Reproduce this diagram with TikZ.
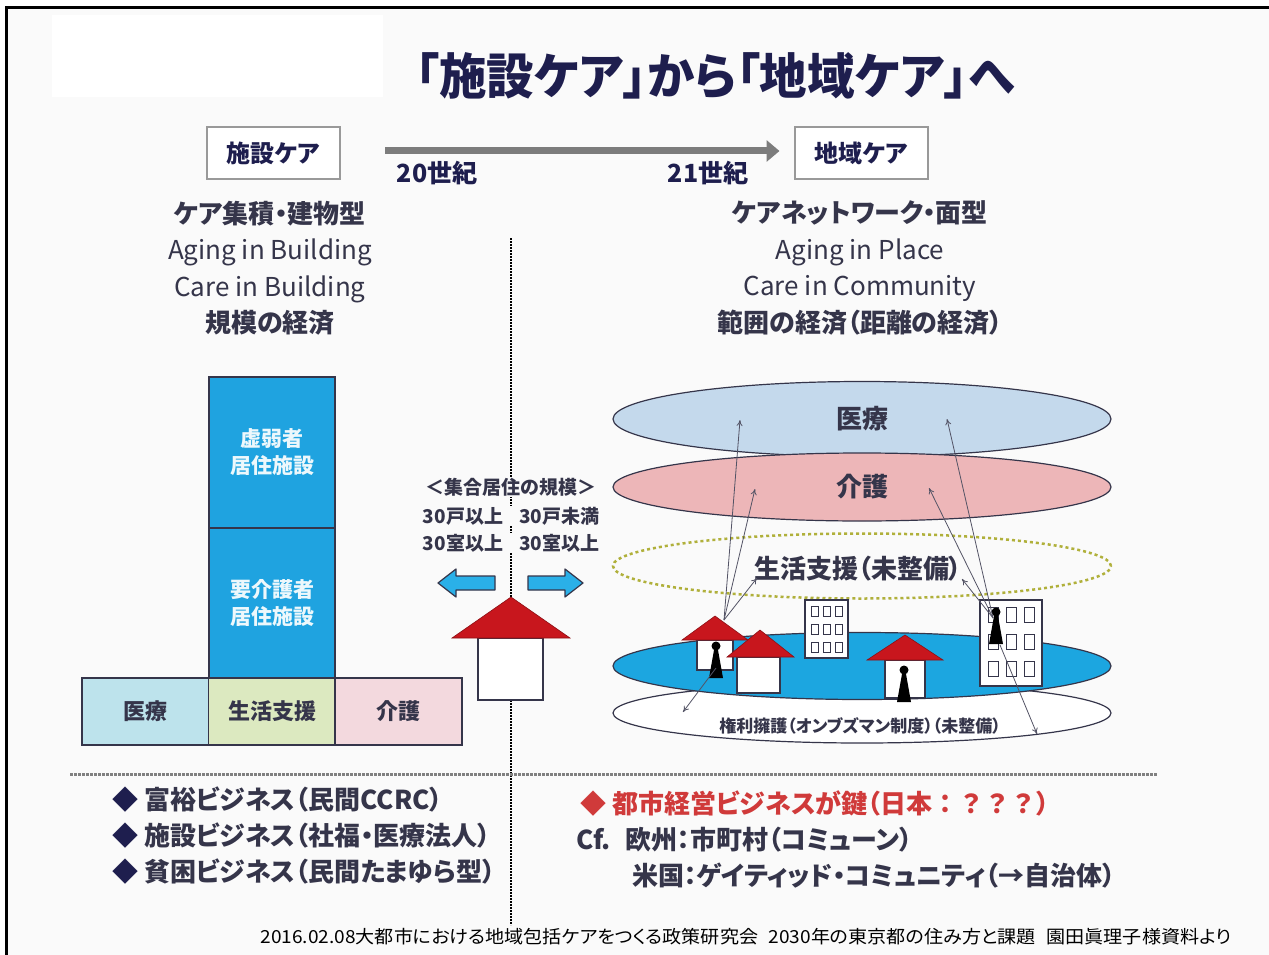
\documentclass[tikz,border=0pt]{standalone}
\usepackage{fontspec}
\setmainfont{Noto Sans CJK JP}[RawFeature=+palt]
\usetikzlibrary{shapes.geometric,arrows.meta}

\definecolor{pagebg}{HTML}{FAFAFA}
\definecolor{navy}{HTML}{1E1E4E}
\definecolor{ink}{HTML}{35354A}
\definecolor{bldgblue}{HTML}{1FA3E0}
\definecolor{cellmed}{HTML}{BDE3EC}
\definecolor{cellgen}{HTML}{DCE9C0}
\definecolor{cellcare}{HTML}{F3D9DE}
\definecolor{layermed}{HTML}{C4D9EC}
\definecolor{layercare}{HTML}{EDB6B8}
\definecolor{layerbase}{HTML}{1CA6E0}
\definecolor{dashgreen}{HTML}{B0B03A}
\definecolor{roofred}{HTML}{C8161D}
\definecolor{keyred}{HTML}{D03A3A}
\definecolor{eragray}{HTML}{7C7C7C}
\definecolor{arrowblue}{HTML}{2AB0E8}

\tikzset{
  jtext/.style={text=ink, inner sep=1pt},
  hdrbox/.style={draw=gray!80, line width=2pt, fill=white, minimum width=133pt,
    minimum height=51pt, text=navy, font=\fontsize{24}{24}\selectfont\bfseries},
  bldg/.style={draw=ink, line width=1.2pt, fill=bldgblue, minimum width=126pt,
    text=white!92!bldgblue, align=center, font=\fontsize{21}{27}\selectfont\bfseries},
  cell/.style={draw=ink, line width=1.2pt, minimum width=127pt, minimum height=67pt,
    text=ink, font=\fontsize{22}{22}\selectfont\bfseries},
  layer/.style={ellipse, draw=ink, line width=1.2pt, minimum width=498pt, inner sep=0pt,
    text=ink, font=\fontsize{26}{26}\selectfont\bfseries},
  roof/.style={fill=roofred, draw=roofred!70!black, line width=0.6pt},
  wall/.style={fill=white, draw=ink, line width=1.2pt},
  window/.style={draw=ink, line width=0.9pt, fill=white},
  link/.style={draw=ink!85, line width=0.8pt, -{To[length=6pt,width=6pt]}},
  barrow/.style={fill=arrowblue, draw=ink, line width=1.2pt, line join=round},
  bullet/.style={anchor=west, text=ink, inner sep=0pt, font=\fontsize{26}{26}\selectfont\bfseries},
}

% small black figure standing for a resident
\newcommand{\resident}[2]{%
  \fill[black] (#1,#2) circle (4.5pt);
  \fill[black] (#1-7,#2+32) -- (#1-2,#2+4) -- (#1+2,#2+4) -- (#1+7,#2+32) -- cycle;}
% full-width glyphs without proportional spacing
\newcommand{\fullwidth}[1]{{\addfontfeature{RawFeature=-palt}#1}}

\begin{document}
\begin{tikzpicture}[x=1pt,y=-1pt]
\useasboundingbox (0,0) rectangle (1269,955);
\fill[white] (0,0) rectangle (1269,955);
\fill[pagebg] (6,8) rectangle (1269,955);
\fill[white] (52,15) rectangle (383,97);
\draw[line width=3pt, black] (6,955) -- (6,8) -- (1269,8);

% ---- title
\node[text=navy, inner sep=0pt] (title) at (715,76)
  {\fontsize{49}{49}\selectfont\bfseries\scalebox{0.97}[1]{「施設ケア」から「地域ケア」へ}};

% ---- era bar
\node[hdrbox] (fac) at (273.5,153) {施設ケア};
\node[hdrbox] (com) at (861,153) {地域ケア};
\coordinate (eraStart) at (385,151);
\draw[eragray, line width=7pt, -{Triangle[length=13pt,width=21pt]}, shorten >=14pt]
  (eraStart) -- (eraStart -| com.west);
\node[text=navy, font=\fontsize{25}{25}\selectfont\bfseries] (c20) at (437,173) {20世紀};
\node[text=navy, font=\fontsize{25}{25}\selectfont\bfseries] (c21) at (708,173) {21世紀};

% ---- descriptions
\node[jtext, align=center, font=\fontsize{26}{36.5}\selectfont] (ldesc) at (270,268)
  {\textbf{ケア集積・建物型}\\Aging in Building\\Care in Building\\\textbf{規模の経済}};
\node[jtext, align=center, font=\fontsize{26}{36.5}\selectfont] (rdesc) at (860,268)
  {\textbf{ケアネットワーク・面型}\\Aging in Place\\Care in Community\\\textbf{範囲の経済（距離の経済）}};

% ---- dividers
\draw[black, line width=2pt, densely dotted] (511,238) -- (511,925);
\draw[gray, line width=3pt, densely dotted] (70,774) -- (1158,774);

% ---- facility block
\node[bldg, minimum height=151pt] (frail) at (272,452.5) {虚弱者\\居住施設};
\node[bldg, minimum height=150pt] (needy) at (272,603) {要介護者\\居住施設};
\node[cell, fill=cellmed] (cmed) at (145.5,711.5) {医療};
\node[cell, fill=cellgen] (cgen) at (272,711.5) {生活支援};
\node[cell, fill=cellcare] (ccare) at (398.5,711.5) {介護};

% ---- housing scale
\node[jtext, fill=pagebg, font=\fontsize{19}{19}\selectfont\bfseries] (scale) at (511,487) {＜集合居住の規模＞};
\node[jtext, fill=pagebg, font=\fontsize{19}{19}\selectfont\bfseries] (units) at (511,516) {30戸以上\hspace{16pt}30戸未満};
\node[jtext, fill=pagebg, font=\fontsize{19}{19}\selectfont\bfseries] (rooms) at (511,543) {30室以上\hspace{16pt}30室以上};
\draw[barrow] (438,583) -- (456,569) -- (456,576) -- (495,576) -- (495,590) -- (456,590) -- (456,597) -- cycle;
\draw[barrow] (583,583) -- (565,569) -- (565,576) -- (528,576) -- (528,590) -- (565,590) -- (565,597) -- cycle;
\draw[wall] (478,638) rectangle (543,700);
\draw[roof] (452,638) -- (511,597) -- (570,638) -- cycle;

% ---- community layers
\node[layer, fill=layermed, minimum height=75pt] (lmed) at (862,419) {医療};
\node[layer, fill=layercare, minimum height=68pt] (lcare) at (862,487) {介護};
\node[layer, draw=dashgreen, dashed, line width=2.5pt, minimum height=65pt] (lgen) at (862,566) {};
\node[jtext, font=\fontsize{26}{26}\selectfont\bfseries] (lgentext) at (858,569) {生活支援（未整備）};
\node[layer, fill=white, minimum height=60pt] (lright) at (862,713) {};
\node[layer, fill=layerbase, minimum height=67pt] (lbase) at (862,666) {};
\node[jtext, font=\fontsize{17}{17}\selectfont\bfseries] (lrighttext) at (860,726) {権利擁護（オンブズマン制度）（未整備）};

% ---- dwellings
\draw[wall] (697,640) rectangle (733,670);
\draw[roof] (682,640) -- (715,616) -- (748,640) -- cycle;
\draw[wall] (737,657) rectangle (780,693);
\draw[roof] (727,657) -- (760,630) -- (794,657) -- cycle;
\draw[wall] (805,600) rectangle (848,658);
\foreach \i in {0,1,2} \foreach \j in {0,1,2}
  \draw[window] (811+\i*12,606+\j*18) rectangle +(7,10);
\draw[wall] (885,660) rectangle (925,698);
\draw[roof] (867,660) -- (905,635) -- (943,660) -- cycle;
\draw[wall] (980,600) rectangle (1042,686);
\foreach \i in {0,1,2} \foreach \j in {0,1,2}
  \draw[window] (988+\i*18,607+\j*27) rectangle +(10,15);
\resident{716}{646}
\resident{904}{670}
\resident{996}{612}

% ---- service links
\coordinate (hA) at (724,620);
\coordinate (hB) at (716,668);
\coordinate (bA) at (993,618);
\coordinate (bB) at (1000,645);
\coordinate (tMedL) at (740,420);
\coordinate (tCareL) at (755,489);
\coordinate (tGenL) at (757,578);
\coordinate (tRightL) at (683,712);
\coordinate (tMedR) at (947,419);
\coordinate (tCareR) at (929,488);
\coordinate (tGenR) at (962,579);
\coordinate (tRightR) at (1037,734);
\draw[link] (hA) -- (tMedL);
\draw[link] (hA) -- (tCareL);
\draw[link] (hA) -- (tGenL);
\draw[link] (hB) -- (tRightL);
\draw[link] (bA) -- (tMedR);
\draw[link] (bA) -- (tCareR);
\draw[link] (bA) -- (tGenR);
\draw[link] (bB) -- (tRightR);

% ---- business models
\node[bullet] (b1) at (112,800) {\textcolor{navy}{◆} 富裕ビジネス（民間CCRC）};
\node[bullet] (b2) at (112,836) {\textcolor{navy}{◆} 施設ビジネス（社福・医療法人）};
\node[bullet] (b3) at (112,872) {\textcolor{navy}{◆} 貧困ビジネス（民間たまゆら型）};
\node[bullet, text=keyred] (r1) at (580,803) {◆ 都市経営ビジネスが鍵（日本\fullwidth{：？？？}）};
\node[bullet] (r2) at (576,840) {Cf.\hspace{14pt}欧州：市町村（コミューン）};
\node[bullet] (r3) at (632,876) {米国：ゲイティッド・コミュニティ（→自治体）};

% ---- source line
\node[text=black, inner sep=0pt] (src) at (746,937)
  {\fontsize{18}{18}\selectfont\scalebox{1.06}[1]{2016.02.08大都市における地域包括ケアをつくる政策研究会\hspace{10pt}2030年の東京都の住み方と課題\hspace{10pt}園田眞理子様資料より}};
\end{tikzpicture}
\end{document}
